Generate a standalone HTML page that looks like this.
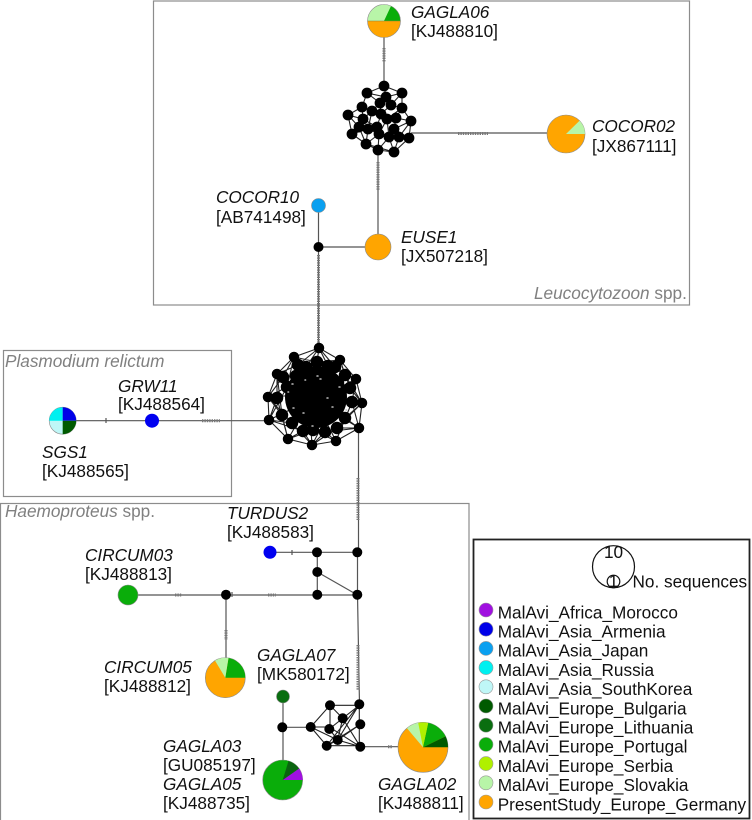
<!DOCTYPE html>
<html>
<head>
<meta charset="utf-8">
<style>
html,body{margin:0;padding:0;background:#fff;width:752px;height:820px;overflow:hidden}
svg{display:block}
text{font-family:"Liberation Sans",sans-serif;font-size:17.2px;fill:#111}
.i{font-style:italic}
.g{fill:#808080;font-size:17.2px}
.e{fill:none;stroke:#555;stroke-width:1.2}
.m{fill:none;stroke:#222;stroke-width:1.1}
.h{fill:none;stroke:#777;stroke-width:3;stroke-dasharray:1.4 1}
.f{fill:none;stroke:#8c8c8c;stroke-width:1.2}
.p{stroke:#8a8a8a;stroke-width:.6}
</style>
</head>
<body>
<svg width="752" height="820" viewBox="0 0 752 820" xmlns="http://www.w3.org/2000/svg">
<rect x="153.500" y="1" width="536" height="304" class="f"/>
<rect x="3.500" y="350.500" width="228" height="146" class="f"/>
<rect x="0.500" y="503.500" width="468.500" height="330" class="f"/>

<path class="e" d="M384 37V86M378 150V234M411 133H547M318.500 212V348M318.500 247H365M62 420.700H269M358.500 428V552M357.500 552V595M128 595H357.500M270 552.300H357.500M317.300 552V595M317.300 572L357.500 595M226 595V658M357.500 595L359.500 704M283 703V760M282.300 727.300H311M360 746.700H398"/>
<path class="h" d="M384 48V62M378 162V190M458 133.500H488M318.500 255V345M202 420.700H220M358 478V520M175 595H182M268 595H276M226 630V640M358 645V690M388 746.700H392"/>
<path class="e" stroke-width="2" d="M106 418V423M292 550V555M232 592V597M229 593V597"/>

<!-- top cluster mesh -->
<path class="m" d="M384 86L367 93L362 107L348 115L359 127L352 134L366 144L378 150L394 152L409 138L411 121L402 108L402 93L384 86L386 97L380 103L372 111L362 107M367 93L380 103M367 93L386 97M402 93L386 97M402 93L391 105L386 97M391 105L402 108L396 118L411 121L399 137L409 138M348 115L363 119L372 111L381 114L391 105M363 119L377 127L381 114L387 119L396 118L394 129L399 137L389 137L394 152M363 119L359 127L368 129L377 127L379 134L389 137L387 119L379 134L368 129L352 134M368 129L366 144L379 134L378 150L389 137M394 129L409 138M394 129L411 121M362 107L363 119M372 111L368 129M380 103L381 114M402 108L387 119M366 144L394 152M359 127L366 144M348 115L352 134M399 137L394 152"/>
<path fill="none" stroke="#000" stroke-width="10.800" stroke-linecap="round" d="M384 86h0M367 93h0M402 93h0M386 97h0M380 103h0M391 105h0M402 108h0M362 107h0M372 111h0M348 115h0M381 114h0M387 119h0M396 118h0M363 119h0M411 121h0M359 127h0M368 129h0M377 127h0M394 129h0M352 134h0M379 134h0M389 137h0M399 137h0M409 138h0M366 144h0M378 150h0M394 152h0"/>

<!-- large cluster mesh -->
<path class="m" stroke-width="1.200" d="M319 348L294 357L277 374L268 397L269 420L288 439L312 445L336 441L359 428L362 403L356 379L340 360L319 348M319 348L298 365M319 348L306 367M319 348L317 362M319 348L328 366M319 348L335 367M294 357L283 377M294 357L306 367M294 357L317 362M294 357L287 387M340 360L317 362M340 360L328 366M340 360L350 388M340 360L345 375M277 374L287 387M277 374L298 365M277 374L277 398M277 374L282 415M268 397L283 377M268 397L287 387M268 397L282 415M268 397L292 423M269 420L277 398M269 420L287 387M269 420L292 423M269 420L303 431M288 439L282 415M288 439L303 431M288 439L313 430M288 439L277 398M312 445L292 423M312 445L303 431M312 445L325 432M312 445L337 428M336 441L313 430M336 441L325 432M336 441L345 418M336 441L352 402M359 428L337 428M359 428L345 418M359 428L352 402M359 428L325 432M362 403L345 418M362 403L350 388M362 403L345 375M362 403L337 428M356 379L335 367M356 379L345 375M356 379L352 402M356 379L328 366M294 357L325 380M340 360L310 380M277 374L310 395M356 379L325 395M268 397L300 395M362 403L330 400M269 420L300 405M359 428L330 410M288 439L305 410M336 441L320 410M312 445L310 415M312 445L328 415"/>
<circle cx="316" cy="397" r="31" fill="#000"/>
<path fill="none" stroke="#000" stroke-width="10.500" stroke-linecap="round" d="M319 348h0M294 357h0M340 360h0M277 374h0M356 379h0M268 397h0M362 403h0M269 420h0M359 428h0M288 439h0M312 445h0M336 441h0"/>
<path fill="none" stroke="#000" stroke-width="12.500" stroke-linecap="round" d="M317 362h0M298 365h0M306 367h0M328 366h0M335 367h0M283 377h0M287 387h0M277 398h0M282 415h0M292 423h0M303 431h0M313 430h0M325 432h0M337 428h0M345 418h0M352 402h0M350 388h0M345 375h0M296 376h0M308 374h0M329 376h0M338 383h0"/>
<path fill="none" stroke="#bbb" stroke-width="1.500" stroke-linecap="round" d="M317 376h1M292 384h1M339 387h1M293 408h1M332 407h1M312 426h1M303 413h1M327 398h1M320 379h1M305 380h.6M346 410h.6M288 392h.6"/>

<!-- Haemoproteus small network -->
<path class="m" stroke="#444" d="M310.700 727L330 705.300H359.300L342.700 718.300L330 705.300V729M310.700 727H329.300L360.300 746.700M310.700 727L326.700 745.700H360.300M310.700 727L337.700 740L360.300 746.700M329.300 729L342.700 718.300L360.300 746.700M359.300 704.300V746.700M359.300 704.300L337.700 740M359.300 704.300L326.700 745.700M360.300 724.300L326.700 745.700M360.300 724.300L337.700 740M342.700 718.300L337.700 740M329.300 729L337.700 740L326.700 745.700"/>
<path fill="none" stroke="#000" stroke-width="10" stroke-linecap="round" d="M318.500 247h0M317 552.300h0M357.300 552.300h0M317.300 572h0M317.300 594.700h0M357.300 594.700h0M226 594.700h0M282.300 727.300h0M310.700 727h0M330 705.300h0M359.300 704.300h0M342.700 718.300h0M360.300 724.300h0M329.300 729h0M337.700 740h0M326.700 745.700h0M360.300 746.700h0"/>

<!-- GAGLA06 -->
<circle cx="384" cy="21" r="16.500" fill="#b8f5a8"/>
<path d="M367.500 21A16.500 16.500 0 0 0 400.500 21Z" fill="#ffa500"/>
<path d="M384 21L391 6A16.500 16.500 0 0 1 400.500 21Z" fill="#0aad0a"/>
<circle cx="384" cy="21" r="16.500" fill="none" class="p"/>
<path d="M367.500 21H400.500" stroke="#8a7a40" stroke-width=".5"/>
<!-- COCOR02 -->
<circle cx="566" cy="134" r="19" fill="#ffa500" class="p"/>
<path d="M566 134L579.500 120.700A19 19 0 0 1 585 134Z" fill="#b8f5a8"/>
<!-- COCOR10, EUSE1 -->
<circle cx="318.500" cy="205.500" r="7" fill="#0aa0f0" class="p"/>
<circle cx="378" cy="247" r="13" fill="#ffa500" class="p"/>
<!-- SGS1 -->
<circle cx="62.700" cy="420.700" r="13.500" fill="#bff7f7" class="p"/>
<path d="M62.700 420.700V407.200A13.500 13.500 0 0 0 49.200 420.700Z" fill="#00f0f0"/>
<path d="M62.700 420.700V407.200A13.500 13.500 0 0 1 76.200 420.700Z" fill="#0000e8"/>
<path d="M62.700 420.700H76.200A13.500 13.500 0 0 1 62.700 434.200Z" fill="#005a00"/>
<!-- GRW11 -->
<circle cx="152" cy="420.700" r="7" fill="#0000f0"/>
<!-- TURDUS2 / CIRCUM03 -->
<circle cx="270" cy="552.300" r="6.500" fill="#0000f0"/>
<circle cx="128" cy="595" r="10" fill="#0aad0a" class="p"/>
<!-- CIRCUM05 -->
<circle cx="225.300" cy="677.700" r="20" fill="#ffa500" class="p"/>
<path d="M225.300 677.700L228.500 658A20 20 0 0 1 245.300 677.700Z" fill="#0aad0a"/>
<path d="M225.300 677.700L215 660.600A20 20 0 0 1 228.500 658Z" fill="#b8f5a8"/>
<!-- GAGLA07 -->
<circle cx="283" cy="696.500" r="6.500" fill="#0a6e10" class="p"/>
<!-- GAGLA05 -->
<circle cx="282.700" cy="780" r="20" fill="#0aad0a" class="p"/>
<path d="M282.700 780L302.700 780A20 20 0 0 0 299 768.500Z" fill="#a010e0"/>
<path d="M282.700 780L299 768.500A20 20 0 0 0 288.500 761Z" fill="#0a6410"/>
<!-- GAGLA02 -->
<circle cx="423" cy="747.300" r="25" fill="#ffa500" class="p"/>
<path d="M423 747.300L445.500 736.300A25 25 0 0 1 448 747.300Z" fill="#005a00"/>
<path d="M423 747.300L428.200 722.900A25 25 0 0 1 445.500 736.300Z" fill="#0aad0a"/>
<path d="M423 747.300L418.200 722.800A25 25 0 0 1 428.200 722.900Z" fill="#b0f000"/>
<path d="M423 747.300L407 728.200A25 25 0 0 1 418.200 722.800Z" fill="#b8f5a8"/>

<!-- labels -->
<text x="411" y="18" class="i">GAGLA06</text><text x="411" y="37">[KJ488810]</text>
<text x="592" y="132" class="i">COCOR02</text><text x="592" y="152">[JX867111]</text>
<text x="216" y="203" class="i">COCOR10</text><text x="216" y="223">[AB741498]</text>
<text x="401" y="243" class="i">EUSE1</text><text x="401" y="262">[JX507218]</text>
<text x="534" y="299" class="g"><tspan class="i">Leucocytozoon</tspan> spp.</text>
<text x="5" y="367" class="g i">Plasmodium relictum</text>
<text x="118" y="392" class="i">GRW11</text><text x="118" y="410">[KJ488564]</text>
<text x="42" y="458" class="i">SGS1</text><text x="42" y="477">[KJ488565]</text>
<text x="5" y="517" class="g"><tspan class="i">Haemoproteus</tspan> spp.</text>
<text x="227" y="519" class="i">TURDUS2</text><text x="227" y="538">[KJ488583]</text>
<text x="85" y="561" class="i">CIRCUM03</text><text x="85" y="580">[KJ488813]</text>
<text x="104" y="673" class="i">CIRCUM05</text><text x="104" y="692">[KJ488812]</text>
<text x="257" y="661" class="i">GAGLA07</text><text x="257" y="680">[MK580172]</text>
<text x="163" y="752" class="i">GAGLA03</text><text x="163" y="771">[GU085197]</text>
<text x="163" y="790" class="i">GAGLA05</text><text x="163" y="809">[KJ488735]</text>
<text x="378" y="790" class="i">GAGLA02</text><text x="378" y="809">[KJ488811]</text>

<!-- legend -->
<rect x="473.500" y="539.500" width="276" height="279" fill="#fff" stroke="#222" stroke-width="1.800"/>
<circle cx="613.500" cy="566.700" r="21" fill="none" stroke="#111" stroke-width="1.200"/>
<circle cx="613.500" cy="581.500" r="6.300" fill="none" stroke="#111" stroke-width="1.200"/>
<text x="613.500" y="558" text-anchor="middle">10</text>
<text x="613.500" y="587" text-anchor="middle">1</text>
<text x="632.500" y="587.500">No. sequences</text>
<g stroke="#999" stroke-width=".6">
<circle cx="486" cy="610" r="7" fill="#a010e0"/>
<circle cx="486" cy="629.200" r="7" fill="#0000e8"/>
<circle cx="486" cy="648.400" r="7" fill="#0aa0f0"/>
<circle cx="486" cy="667.600" r="7" fill="#00f0f0"/>
<circle cx="486" cy="686.800" r="7" fill="#bff7f7"/>
<circle cx="486" cy="706" r="7" fill="#005a00"/>
<circle cx="486" cy="725.200" r="7" fill="#0a6e10"/>
<circle cx="486" cy="744.400" r="7" fill="#0aad0a"/>
<circle cx="486" cy="763.600" r="7" fill="#b0f000"/>
<circle cx="486" cy="782.800" r="7" fill="#b8f5a8"/>
<circle cx="486" cy="802" r="7" fill="#ffa500"/>
</g>
<text x="497.700" y="618.300">MalAvi_Africa_Morocco</text>
<text x="497.700" y="637.500">MalAvi_Asia_Armenia</text>
<text x="497.700" y="656.700">MalAvi_Asia_Japan</text>
<text x="497.700" y="675.900">MalAvi_Asia_Russia</text>
<text x="497.700" y="695.100">MalAvi_Asia_SouthKorea</text>
<text x="497.700" y="714.300">MalAvi_Europe_Bulgaria</text>
<text x="497.700" y="733.500">MalAvi_Europe_Lithuania</text>
<text x="497.700" y="752.700">MalAvi_Europe_Portugal</text>
<text x="497.700" y="771.900">MalAvi_Europe_Serbia</text>
<text x="497.700" y="791.100">MalAvi_Europe_Slovakia</text>
<text x="497.700" y="810.300">PresentStudy_Europe_Germany</text>
</svg>
</body>
</html>
